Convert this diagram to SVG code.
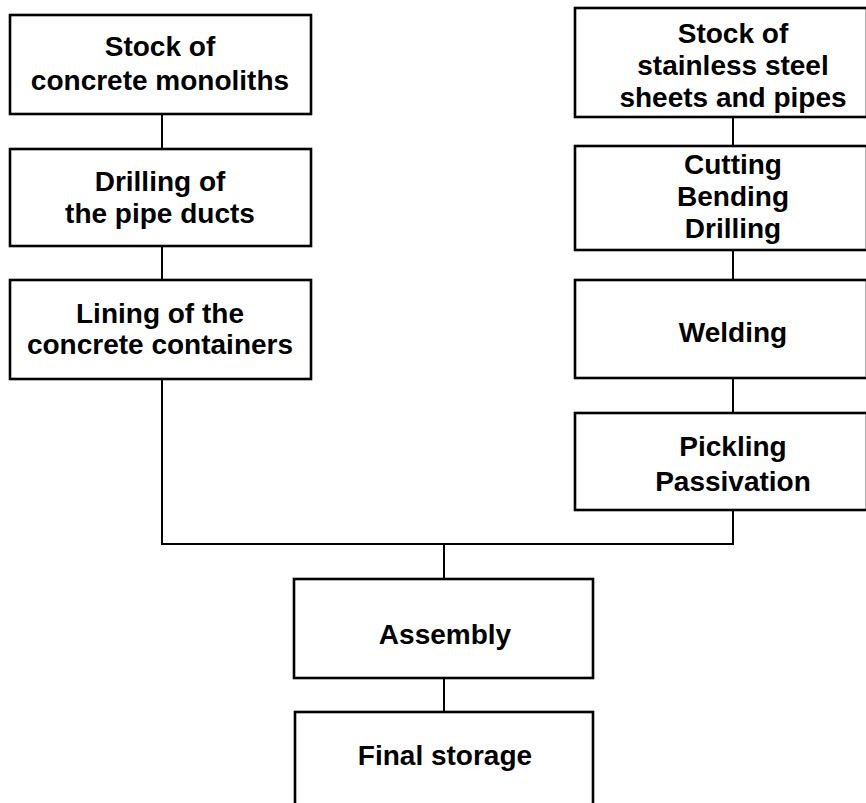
<svg xmlns="http://www.w3.org/2000/svg" width="866" height="803" viewBox="0 0 866 803">
  <style>
    .box { fill: #ffffff; stroke: #000000; stroke-width: 2.6; }
    .link { fill: none; stroke: #000000; stroke-width: 2; }
    .label { font-family: "Liberation Sans", Arial, Helvetica, sans-serif; font-weight: bold; font-size: 28px; fill: #000000; text-anchor: middle; }
  </style>
  <rect width="866" height="803" fill="#ffffff"/>

  <!-- connectors -->
  <g id="connectors">
    <line class="link" x1="162" y1="114" x2="162" y2="149"/>
    <line class="link" x1="162" y1="246" x2="162" y2="280"/>
    <polyline class="link" points="162,379 162,544 733,544 733,510"/>
    <line class="link" x1="733" y1="117" x2="733" y2="146"/>
    <line class="link" x1="733" y1="250" x2="733" y2="280"/>
    <line class="link" x1="733" y1="378" x2="733" y2="413"/>
    <line class="link" x1="444" y1="544" x2="444" y2="579"/>
    <line class="link" x1="444" y1="678" x2="444" y2="712"/>
  </g>

  <!-- concrete branch -->
  <g id="stock-concrete">
    <rect class="box" x="10" y="15" width="301" height="99"/>
    <text class="label" x="160" y="56">Stock of</text>
    <text class="label" x="160" y="90">concrete monoliths</text>
  </g>
  <g id="drilling-ducts">
    <rect class="box" x="10" y="149" width="301" height="97"/>
    <text class="label" x="160" y="191">Drilling of</text>
    <text class="label" x="160" y="223">the pipe ducts</text>
  </g>
  <g id="lining">
    <rect class="box" x="10" y="280" width="301" height="99"/>
    <text class="label" x="160" y="323">Lining of the</text>
    <text class="label" x="160" y="354">concrete containers</text>
  </g>

  <!-- stainless steel branch -->
  <g id="stock-steel">
    <rect class="box" x="575" y="8" width="292" height="109"/>
    <text class="label" x="733" y="43">Stock of</text>
    <text class="label" x="733" y="75">stainless steel</text>
    <text class="label" x="733" y="107">sheets and pipes</text>
  </g>
  <g id="cutting">
    <rect class="box" x="575" y="146" width="292" height="104"/>
    <text class="label" x="733" y="174">Cutting</text>
    <text class="label" x="733" y="206">Bending</text>
    <text class="label" x="733" y="238">Drilling</text>
  </g>
  <g id="welding">
    <rect class="box" x="575" y="280" width="292" height="98"/>
    <text class="label" x="733" y="342">Welding</text>
  </g>
  <g id="pickling">
    <rect class="box" x="575" y="413" width="292" height="97"/>
    <text class="label" x="733" y="456">Pickling</text>
    <text class="label" x="733" y="491">Passivation</text>
  </g>

  <!-- joint steps -->
  <g id="assembly">
    <rect class="box" x="294" y="579" width="299" height="99"/>
    <text class="label" x="445" y="644">Assembly</text>
  </g>
  <g id="final-storage">
    <rect class="box" x="295" y="712" width="298" height="110"/>
    <text class="label" x="445" y="765">Final storage</text>
  </g>
</svg>
